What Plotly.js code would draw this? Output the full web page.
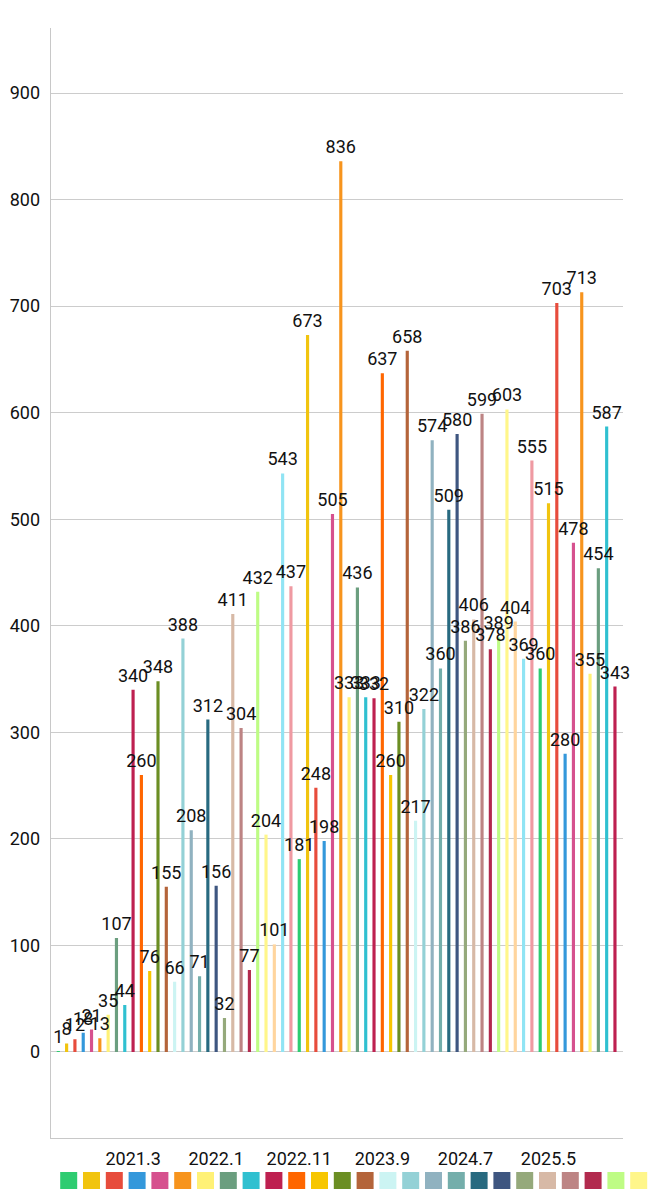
<!DOCTYPE html>
<html>
<head>
<meta charset="utf-8">
<script src="https://cdn.plot.ly/plotly-3.0.1.min.js"></script>
<style>
  html, body { margin: 0; padding: 0; background: #fff; }
  #chart { width: 652px; height: 1200px; }
</style>
</head>
<body>
<div id="chart"></div>
<script>
// ---- data ----
const months = [
  '2020.6','2020.7','2020.8','2020.9','2020.10','2020.11','2020.12',
  '2021.1','2021.2','2021.3','2021.4','2021.5','2021.6','2021.7','2021.8','2021.9','2021.10','2021.11','2021.12',
  '2022.1','2022.2','2022.3','2022.4','2022.5','2022.6','2022.7','2022.8','2022.9','2022.10','2022.11','2022.12',
  '2023.1','2023.2','2023.3','2023.4','2023.5','2023.6','2023.7','2023.8','2023.9','2023.10','2023.11','2023.12',
  '2024.1','2024.2','2024.3','2024.4','2024.5','2024.6','2024.7','2024.8','2024.9','2024.10','2024.11','2024.12',
  '2025.1','2025.2','2025.3','2025.4','2025.5','2025.6','2025.7','2025.8','2025.9','2025.10','2025.11','2025.12',
  '2026.1'
];
const counts = [
  1, 8, 12, 18, 21, 13, 35, 107, 44, 340,
  260, 76, 348, 155, 66, 388, 208, 71, 312, 156,
  32, 411, 304, 77, 432, 204, 101, 543, 437, 181,
  673, 248, 198, 505, 836, 333, 436, 333, 332, 637,
  260, 310, 658, 217, 322, 574, 360, 509, 580, 386,
  406, 599, 378, 389, 603, 404, 369, 555, 360, 515,
  703, 280, 478, 713, 355, 454, 587, 343
];
const tickLabels = ['2021.3','2022.1','2022.11','2023.9','2024.7','2025.5'];
const palette = [
  '#2ecc71','#f1c40f','#e74c3c','#3498db','#d6518e','#f7941d','#fff176','#6b9e7f',
  '#30c0d0','#be2050','#ff6600','#f7c600','#6b8e23','#b4643a','#ccf4f3','#94d1d6',
  '#90b2c0','#74aeab','#286a80','#3e5680','#95a97b','#d7b9a6','#bd8484','#b22a4e',
  '#befc85','#fff68a','#ffd59e','#90e4f4','#ef9aa2'
];

// ---- traces ----
const barColors = counts.map((v, i) => palette[i % palette.length]);
const FONT = 'Roboto, sans-serif';

const bars = {
  type: 'bar',
  x: months,
  y: counts,
  width: 0.38,
  marker: { color: barColors, line: { width: 0 } },
  hoverinfo: 'x+y',
  showlegend: false
};

// value labels drawn above every bar (on top of all bars)
const labels = {
  type: 'scatter',
  mode: 'markers+text',
  x: months,
  y: counts,
  text: counts.map(String),
  textposition: 'top center',
  textfont: { family: FONT, size: 18, color: '#111' },
  marker: { size: 4, opacity: 0 },
  cliponaxis: false,
  hoverinfo: 'skip',
  showlegend: false
};

// colour swatches row (legend-like strip at the bottom)
const swatches = {
  type: 'scatter',
  mode: 'markers',
  xaxis: 'x2',
  yaxis: 'y2',
  x: palette.map((c, k) => k),
  y: palette.map(() => 0),
  marker: { symbol: 'square', size: 17, color: palette, line: { width: 0 } },
  cliponaxis: false,
  hoverinfo: 'skip',
  showlegend: false
};

const W = 652, H = 1200, TOP = 28;
const paperH = H - TOP;

const layout = {
  width: W,
  height: H,
  margin: { l: 0, r: 0, t: TOP, b: 0, pad: 0 },
  paper_bgcolor: '#fff',
  plot_bgcolor: '#fff',
  showlegend: false,
  barmode: 'overlay',
  font: { family: FONT, size: 18, color: '#111' },
  xaxis: {
    type: 'category',
    domain: [50.7 / W, 622.7 / W],
    range: [-0.915, 67.93],
    tickmode: 'array',
    tickvals: tickLabels,
    ticktext: tickLabels,
    ticks: '',
    ticklabelstandoff: 4,
    showgrid: false,
    zeroline: false,
    showline: true,
    linecolor: '#c8c8c8',
    linewidth: 1,
    tickfont: { family: FONT, size: 18, color: '#111' },
    fixedrange: true
  },
  yaxis: {
    domain: [(H - 1138.3) / paperH, 1],
    range: [-81, 961],
    tick0: 0,
    dtick: 100,
    ticks: '',
    ticklabelstandoff: 6,
    showgrid: true,
    gridcolor: '#cccccc',
    gridwidth: 1,
    zeroline: true,
    zerolinecolor: '#cccccc',
    zerolinewidth: 1,
    showline: true,
    linecolor: '#c8c8c8',
    linewidth: 1,
    tickfont: { family: FONT, size: 18, color: '#111' },
    fixedrange: true
  },
  xaxis2: {
    domain: [0, 1],
    range: [-68.7 / 22.8, -68.7 / 22.8 + W / 22.8],
    anchor: 'y2',
    visible: false,
    fixedrange: true
  },
  yaxis2: {
    domain: [0, 39 / paperH],
    range: [-1, 1],
    anchor: 'x2',
    visible: false,
    fixedrange: true
  }
};

Plotly.newPlot('chart', [bars, labels, swatches], layout, { displayModeBar: false, staticPlot: true });
</script>
</body>
</html>
